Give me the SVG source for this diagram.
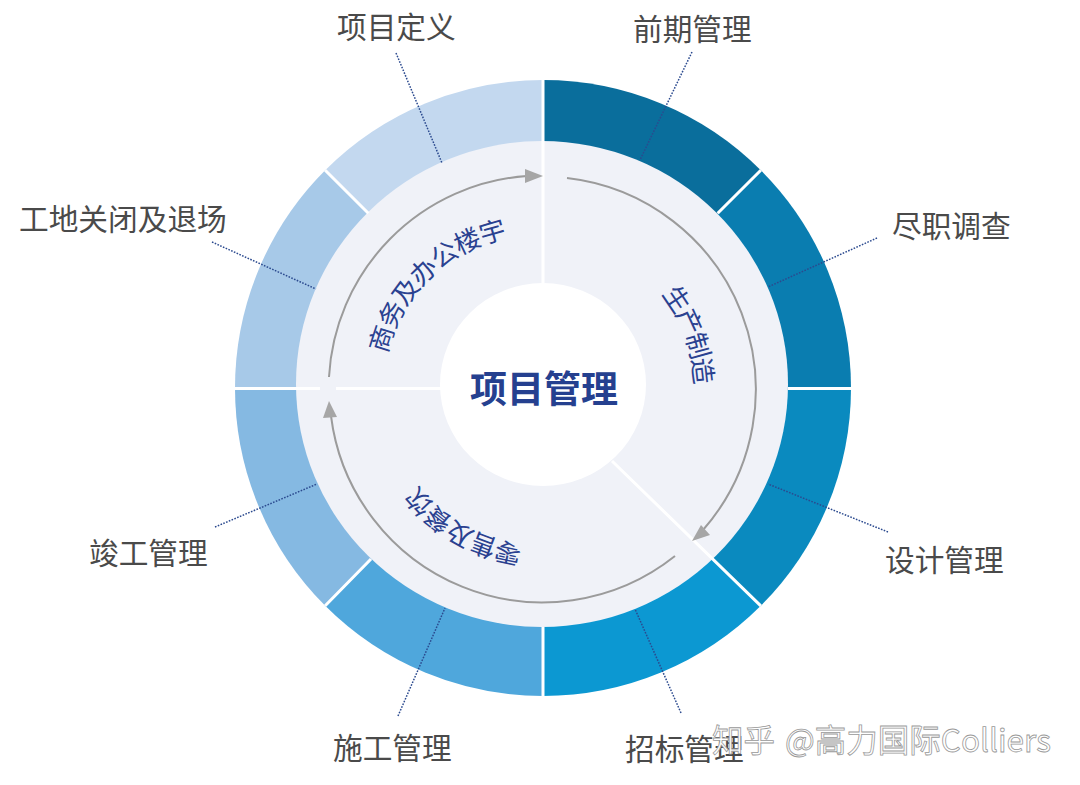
<svg xmlns="http://www.w3.org/2000/svg" xmlns:xlink="http://www.w3.org/1999/xlink" width="1080" height="785" viewBox="0 0 1080 785">
<style>
text{font-family:"Noto Sans CJK SC","Noto Sans",sans-serif}
.lb{font-size:29.7px;fill:#4a4a4a}
.cv{font-size:26px;fill:#2a4190;text-anchor:middle;letter-spacing:-1.5px}
.sep{stroke:#fff;stroke-width:3;fill:none}
.ld{stroke:#2b4a8f;stroke-width:1.5;stroke-dasharray:1.6 1.4;fill:none}
.arc{stroke:#9b9b9b;stroke-width:2;fill:none}
.hd{fill:#a6a6a6}
.wm{font-size:31.5px;word-spacing:3px;fill:#fff;stroke:#999;stroke-width:.8}
</style>
<defs>
<path id="p1" d="M383 389A154 154 0 0 1 537 235"/>
<path id="p2" d="M616.2 255.9A151 151 0 0 1 685.8 437.2"/>
<path id="p3" d="M572 544.3A159 159 0 0 1 394.1 443.7"/>
</defs>
<rect width="1080" height="785" fill="#fff"/>
<g id="ring">
<path fill="#0a6e9c" d="M543 388V80A308 308 0 0 1 760.8 170.2Z"/>
<path fill="#0a7db0" d="M543 388L760.8 170.2A308 308 0 0 1 851 388Z"/>
<path fill="#0a8abf" d="M543 388H851A308 308 0 0 1 760.8 605.8Z"/>
<path fill="#0c98d2" d="M543 388L760.8 605.8A308 308 0 0 1 543 696Z"/>
<path fill="#4fa7dc" d="M543 388V696A308 308 0 0 1 325.2 605.8Z"/>
<path fill="#85b9e2" d="M543 388L325.2 605.8A308 308 0 0 1 235 388Z"/>
<path fill="#a7c9e8" d="M543 388H235A308 308 0 0 1 325.2 170.2Z"/>
<path fill="#c3d8ef" d="M543 388L325.2 170.2A308 308 0 0 1 543 80Z"/>
<ellipse cx="542" cy="384" rx="246" ry="243" fill="#f0f2f8"/>
<path class="sep" d="M543 80V283M760.8 170.2L717.7 213.3M851 388.5H788M760.8 605.8L612 461M543 696V627M325.2 605.8L371 559M235 388.5H320M336 388.5H442M325.2 170.2L368.3 213.3"/>
<ellipse cx="543" cy="384.5" rx="103" ry="101.5" fill="#fff"/>
</g>
<g id="connectors">
<path class="ld" d="M692 52L640 160"/>
<path class="ld" d="M877 238L768 287"/>
<path class="ld" d="M888 532L768 484"/>
<path class="ld" d="M681 713L635 609"/>
<path class="ld" d="M398 716L445 608"/>
<path class="ld" d="M215 527L317 484"/>
<path class="ld" d="M212 242L316 289"/>
<path class="ld" d="M396 53L442 163"/>
<path class="arc" d="M567 178A213 213 0 0 1 703 530"/>
<polygon class="hd" points="692,541 701,525 710,535"/>
<path class="arc" d="M675 556A213 213 0 0 1 331 416"/>
<polygon class="hd" points="329,401 323,418 337,417"/>
<path class="arc" d="M329 377A213 213 0 0 1 527 176"/>
<polygon class="hd" points="543,176 525,169 525,183"/>
</g>
<g id="center"><text x="544" y="403" font-size="37" font-weight="700" fill="#25408f" text-anchor="middle">项目管理</text></g>
<g id="phase-office"><text class="cv" style="letter-spacing:-.8px"><textPath xlink:href="#p1" href="#p1" startOffset="51%">商务及办公楼宇</textPath></text></g>
<g id="phase-production"><text class="cv" style="letter-spacing:-2px"><textPath xlink:href="#p2" href="#p2" startOffset="51%">生产制造</textPath></text></g>
<g id="phase-retail"><text class="cv"><textPath xlink:href="#p3" href="#p3" startOffset="50%">零售及餐饮</textPath></text></g>
<g id="n1"><text class="lb" x="337" y="38">项目定义</text></g>
<g id="n2"><text class="lb" x="633" y="40">前期管理</text></g>
<g id="n3"><text class="lb" x="892" y="237">尽职调查</text></g>
<g id="n4"><text class="lb" x="885" y="571">设计管理</text></g>
<g id="n5"><text class="lb" x="625" y="760">招标管理</text></g>
<g id="n6"><text class="lb" x="333" y="759">施工管理</text></g>
<g id="n7"><text class="lb" x="89" y="564">竣工管理</text></g>
<g id="n8"><text class="lb" x="19" y="230">工地关闭及退场</text></g>
<g id="watermark"><text class="wm" x="712" y="752">知乎 @高力国际Colliers</text></g>
</svg>
